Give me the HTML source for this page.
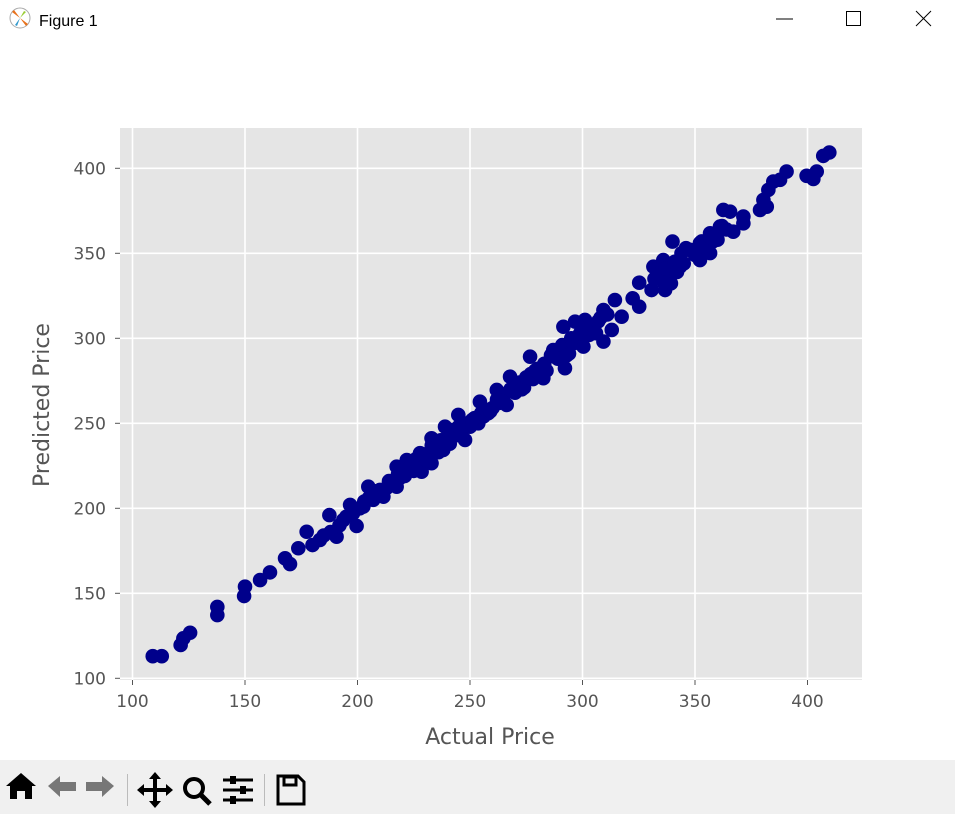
<!DOCTYPE html>
<html><head><meta charset="utf-8"><style>
html,body{margin:0;padding:0;width:955px;height:814px;overflow:hidden;background:#fff;font-family:"Liberation Sans","DejaVu Sans",sans-serif}
#titlebar{position:absolute;left:0;top:0;width:955px;height:40px;background:#fff}
#toolbar{position:absolute;left:0;top:760px;width:955px;height:54px;background:#f0f0f0}
#chart text{font-family:"DejaVu Sans","Liberation Sans",sans-serif}
</style></head><body>
<div id="titlebar">
<svg width="955" height="40" style="position:absolute;left:0;top:0">
<g><circle cx="20" cy="18" r="10" fill="#fff" stroke="#aaa" stroke-width="1"/><path d="M20 18 L12 12 L14 10 Z M20 18 L28 24 L26 26 Z" fill="#e8721c"/><path d="M20 18 L24 11 L26 12Z" fill="#9c3"/><path d="M20 18 L17 26 L15 25Z" fill="#39c"/></g>
<text x="39" y="26" font-size="16" fill="#000" font-family="Liberation Sans, sans-serif">Figure 1</text>
<line x1="776" y1="19" x2="793" y2="19" stroke="#000" stroke-width="1"/>
<rect x="846.5" y="11.5" width="14" height="14" fill="none" stroke="#000"/>
<g><line x1="916" y1="11" x2="931" y2="26" stroke="#000"/><line x1="931" y1="11" x2="916" y2="26" stroke="#000"/></g>
</svg></div>

<svg id="chart" width="955" height="814" style="position:absolute;left:0;top:0">
<rect x="120" y="128" width="742" height="552" fill="#e5e5e5"/>
<g id="grid"></g><g id="ticks"></g><g id="points"></g>
<text x="490" y="744" text-anchor="middle" font-size="22" fill="#555">Actual Price</text>
<text transform="translate(49,405) rotate(-90)" text-anchor="middle" font-size="22" fill="#555">Predicted Price</text>
</svg>

<div id="toolbar">
<svg width="320" height="54" style="position:absolute;left:0;top:0">
<g><path d="M6 26 L21 13 L36 26 L32 26 L32 39 L25 39 L25 31 L17 31 L17 39 L10 39 L10 26Z" fill="#000"/></g>
<g><path d="M48 26 L60 16 L60 22 L76 22 L76 31 L60 31 L60 37Z" fill="#777"/></g>
<g><path d="M114 26 L102 16 L102 22 L86 22 L86 31 L102 31 L102 37Z" fill="#777"/></g>
<line x1="127.5" y1="14" x2="127.5" y2="46" stroke="#bbb"/>
<g><path d="M155 12 L161 19 L157 19 L157 28 L166 28 L166 24 L173 30 L166 36 L166 32 L157 32 L157 41 L161 41 L155 48 L149 41 L153 41 L153 32 L144 32 L144 36 L137 30 L144 24 L144 28 L153 28 L153 19 L149 19Z" fill="#000"/></g>
<g><circle cx="194" cy="28" r="9" fill="none" stroke="#000" stroke-width="4"/><line x1="200" y1="34" x2="210" y2="44" stroke="#000" stroke-width="5"/></g>
<g><g stroke="#000" stroke-width="3"><line x1="223" y1="20" x2="253" y2="20"/><line x1="223" y1="30" x2="253" y2="30"/><line x1="223" y1="40" x2="253" y2="40"/></g><rect x="230" y="16" width="6" height="8" fill="#000"/><rect x="240" y="26" width="6" height="8" fill="#000"/><rect x="230" y="36" width="6" height="8" fill="#000"/></g>
<line x1="264.5" y1="14" x2="264.5" y2="46" stroke="#bbb"/>
<g><path d="M278 16 L298 16 L304 22 L304 44 L278 44Z" fill="none" stroke="#000" stroke-width="3"/><rect x="284" y="17" width="12" height="8" fill="none" stroke="#000" stroke-width="3"/></g>
</svg></div>

<script>
const xTicks=[100,150,200,250,300,350,400];
const yTicks=[100,150,200,250,300,350,400];
const actual=[109,113,121.4,122.6,125.6,137.7,137.7,150,149.6,156.7,161.1,167.8,170,173.7,177.4,180,183.3,187.5,190.7,193.7,196.7,199.6,202.6,204.8,210,211.5,217.4,217.4,221.9,227.8,228.5,232.9,232.9,238.9,238.1,244.8,247.8,254.4,253.7,
258.1,261.9,267.8,266.3,276.7,282.6,287,292.2,291.5,296.7,301.1,300.4,309.3,309.3,314.4,313,317.4,322.3,325.2,325.2,330.7,331.5,335.9,336.7,339.3,335.9,340,346,343.3,352.2,352.2,356.7,356.7,361.1,362.6,365.6,367,371.5,371.5,378.9,381.9,380.4,382.6,384.8,387.8,390.7,399.6,402.6,404.1,407,409.7,
185,188,192,195,198,201,205,207,209,213,215,219,220,223,225,226,230,231,234,236,237,240,241,243,246,249,250,252,256,260,263,265,270,272,274,278,280,284,289,290,294,297,303,305,307,333,338,345,350,355,358,360,
203,206,208,212,214,216,218,221,224,227,229,231,233,235,239,242,244,245,248,251,255,257,259,262,264,268,271,273,275,277,279,281,283,286,288,291,293,295,296,298,299,302,304,306,308,311,332,334,336,337,341,342,344,348,353,354,357,359,362,364];
const predicted=[113,113,119.6,123.5,126.8,142,137.2,153.9,148.4,157.8,162.3,170.6,167.2,176.5,186.2,178.4,181.4,196,183.3,193.1,202,189.6,201,212.7,210.8,206.8,224.5,212.7,228.4,232.4,221.5,241.2,226.5,248,234.3,254.9,240.2,262.7,250,
255.9,269.6,277.4,260.8,289.2,276.5,293.1,282.4,306.8,309.8,310.8,295.1,298.1,316.6,322.5,304.9,312.7,323.5,318.6,332.7,328.4,342.1,346,328.4,332.3,336.3,356.9,353,342.1,356,346,361.8,350.1,365.7,375.5,374.5,362.7,371.6,367.6,375.5,377.4,381.4,387.3,392.2,393.2,398.1,395.6,393.7,398.1,407.3,409.3,
184,186,190,195,197,200,206,205,210,212,215,218,222,224,222,229,229,232,236,233,240,242,238,245,244,250,248,253,254,259,262,266,268,274,271,276,282,281,288,292,291,298,302,306,310,336,340,344,349,353,357,358,
204,207,210,211,216,214,220,219,226,225,231,228,237,236,238,246,243,248,249,252,256,258,257,264,263,270,272,270,277,279,281,279,285,290,289,296,290,300,297,301,303,306,308,303,312,314,335,338,333,341,345,339,350,352,357,354,359,360,366,364];
const X=v=>132.5+(v-100)*2.25, Y=v=>678.3-(v-100)*1.7;
const NS='http://www.w3.org/2000/svg';
const g=document.getElementById('grid'),t=document.getElementById('ticks'),p=document.getElementById('points');
function mk(tag,at,par){const e=document.createElementNS(NS,tag);for(const k in at)e.setAttribute(k,at[k]);par.appendChild(e);return e;}
xTicks.forEach(v=>{
 const l=mk('line',{x1:X(v),x2:X(v),y1:128,y2:680,stroke:'#fff','stroke-width':1.6},g);
 
 
 const k=mk('line',{x1:X(v),x2:X(v),y1:680,y2:685,stroke:'#555'},t);
 
 
 const s=mk('text',{x:X(v),y:707,'text-anchor':'middle','font-size':17,fill:'#555'},t);s.textContent=v;
 
 
});
yTicks.forEach(v=>{
 const l=mk('line',{x1:120,x2:862,y1:Y(v),y2:Y(v),stroke:'#fff','stroke-width':1.6},g);
 
 
 const k=mk('line',{x1:115,x2:120,y1:Y(v),y2:Y(v),stroke:'#555'},t);
 
 
 const s=mk('text',{x:106,y:Y(v)+6,'text-anchor':'end','font-size':17,fill:'#555'},t);s.textContent=v;
 
 
});
const n=Math.min(actual.length,predicted.length);
for(let i=0;i<n;i++){
 const c=mk('circle',{cx:X(actual[i]),cy:Y(predicted[i]),r:7.3,fill:'#00008b'},p);
 
 
}
</script>
</body></html>
